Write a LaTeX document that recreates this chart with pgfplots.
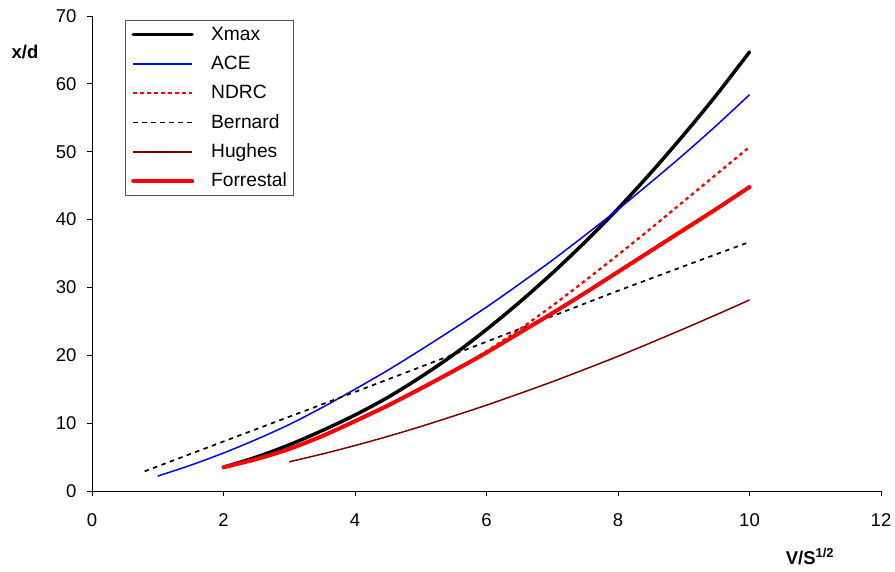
\documentclass[border=0pt]{standalone}
\usepackage{pgfplots}
\pgfplotsset{compat=1.18}
\usepackage{fontspec}
\setmainfont{Liberation Sans}
\definecolor{hughesred}{RGB}{128,0,0}
\newcommand{\chartfont}{\fontsize{18.5}{22}\selectfont}
\newcommand{\legendfont}{\fontsize{19.2}{23}\selectfont}
\begin{document}
\begin{tikzpicture}
\useasboundingbox (-92pt,-81pt) rectangle (803pt,491pt);
\begin{axis}[
  scale only axis, width=789pt, height=475pt,
  xmin=0, xmax=12, ymin=0, ymax=70,
  xtick={0,2,...,12}, ytick={0,10,...,70},
  axis x line*=bottom, axis y line*=left,
  axis line style={-, line width=0.8pt, black},
  every outer x axis line/.append style={-},
  every outer y axis line/.append style={-},
  tick align=outside, major tick length=5pt,
  tick style={black, line width=0.8pt},
  /pgf/number format/assume math mode=true,
  ticklabel style={font=\chartfont},
  xticklabel style={yshift=-14pt},
  yticklabel style={xshift=-7pt},
  xlabel={\textbf{V/S\textsuperscript{1/2}}},
  xlabel style={font=\chartfont, at={(axis description cs:0.910,-0.1537)}, anchor=base},
  ylabel={\textbf{x/d}},
  ylabel style={font=\chartfont, rotate=-90, at={(axis description cs:-0.0849,0.924)}, anchor=center},
  legend image code/.code={\draw[#1] (0pt,0pt) -- (59pt,0pt);},
  legend cell align=left,
  legend style={at={(axis description cs:0.0418,0.9916)}, anchor=north west,
    draw=black!65, fill=white, font=\legendfont,
    inner xsep=6pt, inner ysep=5.5pt, row sep=11.3pt, column sep=17pt,
    nodes={inner sep=0pt, text height=14.5pt, text depth=3.5pt}},
  clip=false,
]
% Xmax
\addplot[draw=black, line width=3.5pt, line cap=round, smooth] coordinates {
 (2,3.5)(2.5,5.0)(3,6.8)(3.5,8.9)(4,11.2)(4.5,13.8)(5,16.8)(5.5,20.1)(6,23.8)
 (6.5,27.8)(7,32.1)(7.5,36.7)(8,41.6)(8.5,46.9)(9,52.5)(9.5,58.4)(10,64.7)};
\addlegendentry{Xmax}
% ACE
\addplot[draw=blue, line width=1.5pt, smooth] coordinates {
 (1,2.2)(1.5,3.8)(2,5.6)(2.5,7.6)(3,9.8)(3.5,12.3)(4,15.0)(4.5,17.8)(5,20.8)
 (5.5,23.9)(6,27.1)(6.5,30.5)(7,34.0)(7.5,37.7)(8,41.5)(8.5,45.5)(9,49.6)(9.5,53.9)(10,58.4)};
\addlegendentry{ACE}
% NDRC
\addplot[draw=red, line width=2.3pt, dash pattern=on 3.5pt off 3.5pt, smooth] coordinates {
 (2,3.5)(2.5,4.7)(3,6.2)(3.5,8.1)(4,10.3)(4.5,12.6)(5,15.1)(5.5,17.7)(6,20.6)
 (6.5,23.8)(7,27.3)(7.5,31.0)(8,34.8)(8.5,38.7)(9,42.7)(9.5,46.7)(10,50.7)};
\addlegendentry{NDRC}
% Bernard
\addplot[draw=black, line width=1.7pt, dash pattern=on 4.5pt off 4.5pt, smooth] coordinates {
 (0.8,2.9)(2,7.3)(4,14.6)(6,22.0)(8,29.5)(10,36.7)};
\addlegendentry{Bernard}
% Hughes
\addplot[draw=hughesred, line width=1.5pt, smooth] coordinates {
 (3,4.3)(3.5,5.45)(4,6.7)(4.5,8.05)(5,9.5)(5.5,11.05)(6,12.65)(6.5,14.35)(7,16.1)
 (7.5,17.95)(8,19.85)(8.5,21.85)(9,23.9)(9.5,26.0)(10,28.15)};
\addlegendentry{Hughes}
% Forrestal
\addplot[draw=red, line width=4pt, line cap=round, smooth] coordinates {
 (2,3.5)(2.5,4.7)(3,6.2)(3.5,8.1)(4,10.3)(4.5,12.6)(5,15.1)(5.5,17.7)(6,20.4)
 (6.5,23.3)(7,26.2)(7.5,29.2)(8,32.3)(8.5,35.4)(9,38.5)(9.5,41.6)(10,44.8)};
\addlegendentry{Forrestal}
\end{axis}
\end{tikzpicture}
\end{document}
